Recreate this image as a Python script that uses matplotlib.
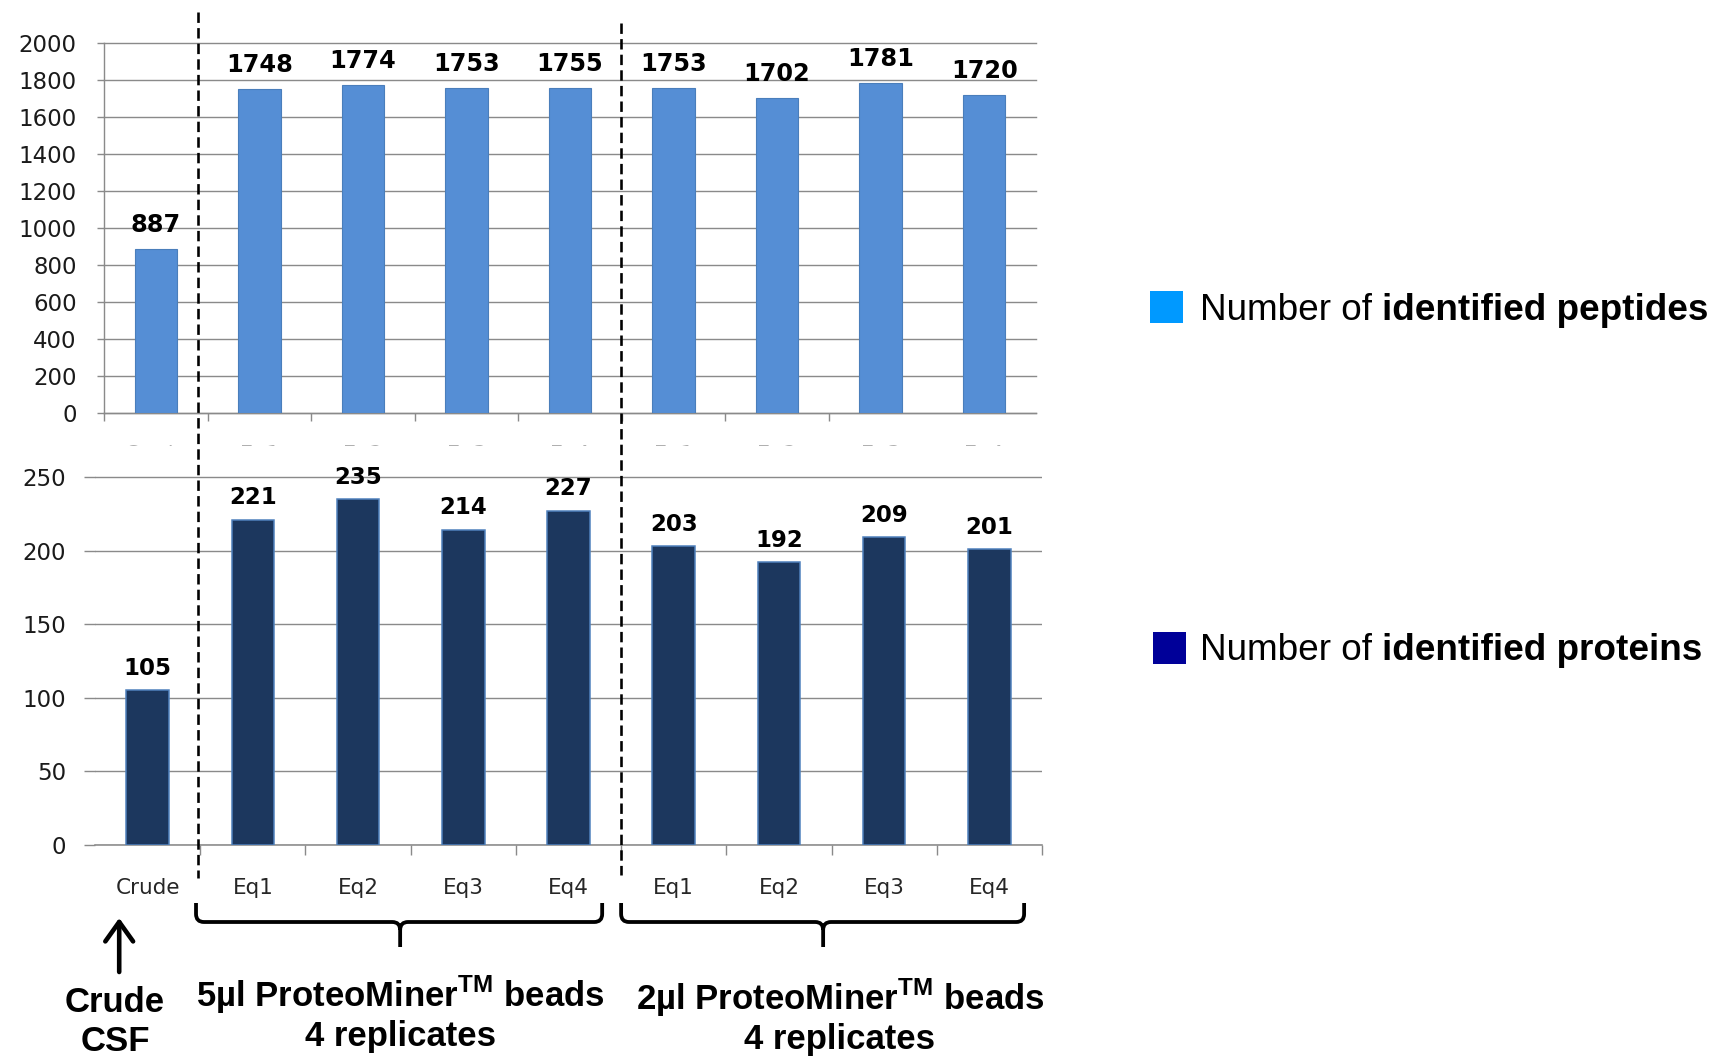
import matplotlib
matplotlib.use("Agg")
import matplotlib.pyplot as plt
import matplotlib.transforms as mtransforms
from matplotlib.patches import Rectangle, PathPatch, FancyArrowPatch
from matplotlib.lines import Line2D
from matplotlib.path import Path

# ---- data -------------------------------------------------------------
categories = ["Crude", "Eq1", "Eq2", "Eq3", "Eq4", "Eq1", "Eq2", "Eq3", "Eq4"]
peptides = [887, 1748, 1774, 1753, 1755, 1753, 1702, 1781, 1720]
proteins = [105, 221, 235, 214, 227, 203, 192, 209, 201]
peptide_ticks = [0, 200, 400, 600, 800, 1000, 1200, 1400, 1600, 1800, 2000]
protein_ticks = [0, 50, 100, 150, 200, 250]
legend_labels = [("Number of ", "identified peptides"),
                 ("Number of ", "identified proteins")]
group_titles = ["5µl ProteoMiner$^{\\mathbf{TM}}$ beads",
                "2µl ProteoMiner$^{\\mathbf{TM}}$ beads"]
group_sub = "4 replicates"
crude_title = ["Crude", "CSF"]

# ---- style ------------------------------------------------------------
plt.rcParams["mathtext.fontset"] = "custom"
plt.rcParams["mathtext.rm"] = "Liberation Sans"
plt.rcParams["mathtext.bf"] = "Liberation Sans:bold"

W, H, DPI = 1720, 1057, 100
GRID = "#8a8a8a"
PT = 72.0 / DPI          # points per pixel

fig = plt.figure(figsize=(W / DPI, H / DPI), dpi=DPI)
fig.patch.set_facecolor("white")

def fx(px):
    return px / W

def fy(py):
    # pixel row measured from the top -> figure fraction
    return (H - py) / H

x = list(range(len(categories)))

# ---- upper panel: peptides -------------------------------------------
ax1 = fig.add_axes([fx(104), fy(412.5), fx(1036) - fx(104), fy(42.8) - fy(412.5)])
ax1.set_zorder(0)
ax1.bar(x, peptides, width=0.41, color="#558ED5", edgecolor="#4A7EBB",
        linewidth=0.8, zorder=3)
ax1.set_xlim(-0.5, len(categories) - 0.5)
ax1.set_ylim(0, 2000)
ax1.set_yticks(peptide_ticks)
ax1.set_yticklabels([str(t) for t in peptide_ticks], fontsize=16.5,
                    family="DejaVu Sans", color="#1a1a1a")
ax1.yaxis.grid(True, color=GRID, linewidth=1.4 * PT)
for gl in ax1.get_ygridlines():
    gl.set_clip_on(False)
ax1.set_axisbelow(True)
ax1.tick_params(axis="y", direction="out", length=7.4 * PT, width=1.4 * PT,
                color=GRID, pad=20 * PT)
ax1.set_xticks(x)
ax1.set_xticklabels(categories, fontsize=15, family="DejaVu Sans", color="#b0b0b0")
ax1.set_xticks([i - 0.5 for i in range(8)], minor=True)
ax1.tick_params(axis="x", which="major", length=0, pad=32.5 * PT)
ax1.tick_params(axis="x", which="minor", direction="out", length=8.3 * PT,
                width=1.4 * PT, color=GRID)
for side in ("top", "right"):
    ax1.spines[side].set_visible(False)
for side in ("left", "bottom"):
    ax1.spines[side].set_color(GRID)
    ax1.spines[side].set_linewidth(1.4 * PT)

for xi, v in zip(x, peptides):
    ax1.annotate(str(v), xy=(xi, v), xytext=(0, 17 * PT), textcoords="offset points",
                 ha="center", va="baseline", fontsize=17.3, fontweight="bold",
                 family="DejaVu Sans", color="black", zorder=5)

# ---- lower panel: proteins -------------------------------------------
px_per_unit = (844.7 - 477.0) / 250.0
ytop = 250 + (477.0 - 446.0) / px_per_unit
ax2 = fig.add_axes([fx(95), fy(844.7), fx(1042) - fx(95), fy(446.0) - fy(844.7)])
ax2.set_zorder(1)
ax2.patch.set_facecolor("white")
ax2.bar(x, proteins, width=0.405, color="#1C375E", edgecolor="#4F81BD",
        linewidth=1.1, zorder=3)
ax2.set_xlim(-0.5, len(categories) - 0.5)
ax2.set_ylim(0, ytop)
ax2.set_yticks(protein_ticks)
ax2.set_yticklabels([str(t) for t in protein_ticks], fontsize=16.5,
                    family="DejaVu Sans", color="#1a1a1a")
ax2.yaxis.grid(True, color=GRID, linewidth=1.4 * PT)
ax2.set_axisbelow(True)
ax2.tick_params(axis="y", direction="out", length=11 * PT, width=1.4 * PT,
                color=GRID, pad=18 * PT)
ax2.set_xticks(x)
ax2.set_xticklabels(categories, fontsize=15.5, family="DejaVu Sans", color="#262626")
ax2.set_xticks([i + 0.5 for i in range(9)], minor=True)
ax2.tick_params(axis="x", which="major", length=0, pad=33.5 * PT)
ax2.tick_params(axis="x", which="minor", direction="out", length=10 * PT,
                width=1.4 * PT, color=GRID)
for side in ("top", "right", "left"):
    ax2.spines[side].set_visible(False)
ax2.spines["bottom"].set_color(GRID)
ax2.spines["bottom"].set_linewidth(1.6 * PT)

for xi, v in zip(x, proteins):
    ax2.annotate(str(v), xy=(xi, v), xytext=(0, 15.5 * PT), textcoords="offset points",
                 ha="center", va="baseline", fontsize=16.5, fontweight="bold",
                 family="DejaVu Sans", color="black", zorder=5)

# ---- separators, braces and captions (x in category units) ------------
blend = mtransforms.blended_transform_factory(ax2.transData, fig.transFigure)

dash = (0, (4, 2))
for xs, ytop_px, ybot_px in [(0.48, 12, 878), (4.5, 23, 875)]:
    fig.add_artist(Line2D([xs, xs], [fy(ytop_px), fy(ybot_px)], transform=blend,
                          color="black", linewidth=2.6 * PT, linestyle=dash,
                          zorder=6))

def brace(x0, x1, xm, yt, yh, yb, rx=0.075, ry=8.0 / H):
    verts = [(x0, yt), (x0, yh + ry), (x0, yh), (x0 + rx, yh),
             (xm - rx, yh), (xm, yh), (xm, yh - ry), (xm, yb),
             (xm, yh - ry), (xm, yh), (xm + rx, yh),
             (x1 - rx, yh), (x1, yh), (x1, yh + ry), (x1, yt)]
    codes = [Path.MOVETO, Path.LINETO, Path.CURVE3, Path.CURVE3,
             Path.LINETO, Path.CURVE3, Path.CURVE3, Path.LINETO,
             Path.MOVETO, Path.CURVE3, Path.CURVE3,
             Path.LINETO, Path.CURVE3, Path.CURVE3, Path.LINETO]
    patch = PathPatch(Path(verts, codes), transform=blend, fill=False,
                      edgecolor="black", linewidth=3.8 * PT, capstyle="butt",
                      joinstyle="round", zorder=6)
    fig.add_artist(patch)

brace(0.46, 4.32, 2.40, fy(903), fy(922), fy(947))
brace(4.50, 8.33, 6.42, fy(903), fy(922), fy(947))

fig.add_artist(FancyArrowPatch((-0.27, fy(972)), (-0.27, fy(918)), transform=blend,
                               arrowstyle="->,head_length=0.7,head_width=0.5",
                               mutation_scale=20, linewidth=4.6 * PT,
                               color="black", shrinkA=0, shrinkB=0, zorder=6))

cap_font = dict(family="Liberation Sans", fontweight="bold", fontsize=25,
                ha="center", va="baseline", color="black", transform=blend)
fig.text(-0.31, fy(1012), crude_title[0], **cap_font)
fig.text(-0.31, fy(1051), crude_title[1], **cap_font)
fig.text(2.40, fy(1007), group_titles[0], **cap_font)
fig.text(2.40, fy(1046), group_sub, **cap_font)
fig.text(6.58, fy(1010), group_titles[1], **cap_font)
fig.text(6.58, fy(1049), group_sub, **cap_font)

# ---- legend -------------------------------------------------------------
legend_items = [
    ("#0099FF", (1150, 291, 33, 31.5), 319.5),
    ("#000099", (1153, 631.5, 33, 32.5), 660.5),
]
pairs = []
for (color, (lx, ly, lw, lh), base), (plain, bold) in zip(legend_items, legend_labels):
    fig.add_artist(Rectangle((fx(lx), fy(ly + lh)), lw / W, lh / H,
                             transform=fig.transFigure, facecolor=color,
                             edgecolor="none"))
    t_plain = fig.text(fx(1200), fy(base), plain, family="Liberation Sans",
                       fontsize=26.6, ha="left", va="baseline", color="black")
    t_bold = fig.text(fx(1200), fy(base), bold, family="Liberation Sans",
                      fontsize=26.6, fontweight="bold", ha="left", va="baseline",
                      color="black")
    pairs.append((t_plain, t_bold))

# place the bold half of each legend entry right after its plain half
fig.canvas.draw()
renderer = fig.canvas.get_renderer()
for t_plain, t_bold in pairs:
    bb = t_plain.get_window_extent(renderer)
    _, y0 = t_plain.get_position()
    t_bold.set_position((bb.x1 / W, y0))

fig.savefig("out.png", dpi=DPI, facecolor="white")
